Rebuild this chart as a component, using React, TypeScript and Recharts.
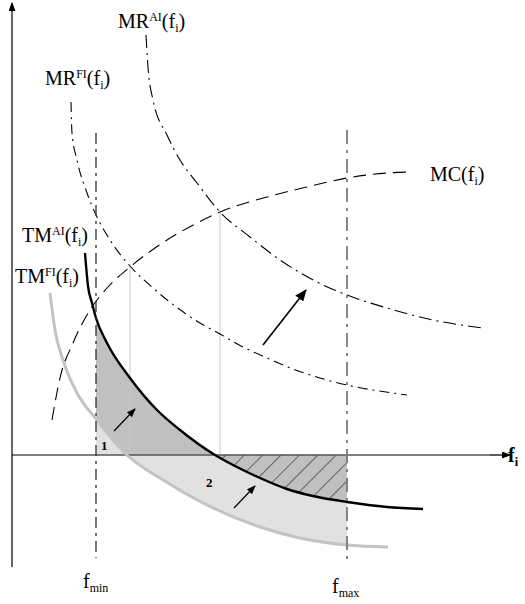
import React from 'react';
import { ComposedChart, Line, Area, XAxis, YAxis, ReferenceLine, ReferenceDot } from 'recharts';

// x = level of f_i measured from the vertical axis, y = value measured from the horizontal axis
const tmAI = [
  { x: 73, y: 202 }, { x: 76, y: 169 }, { x: 80, y: 152 }, { x: 84, y: 137 }, { x: 95, y: 112 },
  { x: 118, y: 77 }, { x: 145, y: 45 }, { x: 168, y: 25 }, { x: 203, y: 0 }, { x: 221, y: -10 },
  { x: 248, y: -23 }, { x: 275, y: -34 }, { x: 301, y: -41 }, { x: 335, y: -47 }, { x: 375, y: -52 },
  { x: 411, y: -54 },
];
const tmFI = [
  { x: 38, y: 162 }, { x: 43, y: 125 }, { x: 51, y: 95 }, { x: 65, y: 62 }, { x: 84, y: 36 },
  { x: 115, y: 0 }, { x: 151, y: -25 }, { x: 193, y: -49 }, { x: 248, y: -72 }, { x: 288, y: -83 },
  { x: 335, y: -90 }, { x: 376, y: -92 },
];
const mc = [
  { x: 40, y: 35 }, { x: 48, y: 77 }, { x: 61, y: 112 }, { x: 78, y: 145 }, { x: 95, y: 167 },
  { x: 118, y: 188 }, { x: 155, y: 215 }, { x: 185, y: 232 }, { x: 208, y: 243 }, { x: 255, y: 258 },
  { x: 295, y: 268 }, { x: 335, y: 277 }, { x: 375, y: 282 }, { x: 400, y: 283 },
];
const mrFI = [
  { x: 59, y: 353 }, { x: 60, y: 322 }, { x: 65, y: 295 }, { x: 75, y: 262 }, { x: 85, y: 238 },
  { x: 98, y: 215 }, { x: 118, y: 189 }, { x: 141, y: 167 }, { x: 188, y: 132 }, { x: 208, y: 121 },
  { x: 231, y: 108 }, { x: 255, y: 97 }, { x: 281, y: 86 }, { x: 315, y: 75 }, { x: 335, y: 70 },
  { x: 395, y: 60 },
];
const mrAI = [
  { x: 134, y: 420 }, { x: 136, y: 388 }, { x: 141, y: 355 }, { x: 155, y: 320 }, { x: 168, y: 295 },
  { x: 185, y: 272 }, { x: 208, y: 243 }, { x: 238, y: 218 }, { x: 271, y: 193 }, { x: 305, y: 173 },
  { x: 335, y: 160 }, { x: 375, y: 147 }, { x: 421, y: 135 }, { x: 471, y: 127 },
];

const fMin = 84;
const fMax = 335;
const tmAIZero = 203;
const fMinLine = [{ x: fMin, y: 322 }, { x: fMin, y: -103 }];
const fMaxLine = [{ x: fMax, y: 325 }, { x: fMax, y: -110 }];
const guideTops = [{ x: 118, y: 188 }, { x: 208, y: 243 }];
const yAxisLine = [{ x: 0, y: -112 }, { x: 0, y: 452 }];
const xAxisLine = [{ x: 0, y: 0 }, { x: 498, y: 0 }];
const shiftArrows = [
  { from: { x: 102, y: 24 }, to: { x: 123, y: 46 } },
  { from: { x: 222, y: -53 }, to: { x: 243, y: -31 } },
  { from: { x: 251, y: 110 }, to: { x: 294, y: 165 } },
];

const darkArea = tmAI.filter((p) => p.x >= fMin && p.x <= tmAIZero);
const lightArea = tmFI.filter((p) => p.x >= fMin && p.x <= fMax);
const hatchArea = tmAI.filter((p) => p.x >= tmAIZero && p.x <= fMax);

type Part = { t: string; k?: 'sup' | 'sub' };
const FONT = '"Liberation Serif", "Times New Roman", serif';

function mathLabel(parts: Part[], size = 20, bold = false, small = 12) {
  return (props: any) => {
    const vb = props.viewBox || {};
    let cur = 0;
    return (
      <text x={vb.x} y={vb.y} fontFamily={FONT} fontSize={size} fontWeight={bold ? 'bold' : 'normal'} fill="#000">
        {parts.map((p, i) => {
          const target = p.k === 'sup' ? -7 : p.k === 'sub' ? 4 : 0;
          const dy = target - cur;
          cur = target;
          return (
            <tspan key={i} dy={dy} fontSize={p.k ? small : size}>
              {p.t}
            </tspan>
          );
        })}
      </text>
    );
  };
}

const labels = [
  { x: 106, y: 427, parts: [{ t: 'MR' }, { t: 'AI', k: 'sup' }, { t: '(f' }, { t: 'i', k: 'sub' }, { t: ')' }] },
  { x: 33, y: 370, parts: [{ t: 'MR' }, { t: 'FI', k: 'sup' }, { t: '(f' }, { t: 'i', k: 'sub' }, { t: ')' }] },
  { x: 418, y: 274, parts: [{ t: 'MC(f' }, { t: 'i', k: 'sub' }, { t: ')' }] },
  { x: 10, y: 213, parts: [{ t: 'TM' }, { t: 'AI', k: 'sup' }, { t: '(f' }, { t: 'i', k: 'sub' }, { t: ')' }] },
  { x: 3, y: 172, parts: [{ t: 'TM' }, { t: 'FI', k: 'sup' }, { t: '(f' }, { t: 'i', k: 'sub' }, { t: ')' }] },
  { x: 71, y: -133, parts: [{ t: 'f' }, { t: 'min', k: 'sub' }] },
  { x: 320, y: -138, parts: [{ t: 'f' }, { t: 'max', k: 'sub' }] },
] as { x: number; y: number; parts: Part[] }[];

const arrowShape = (size: 'big' | 'small' | 'axis') => (p: any) => (
  <line
    x1={p.x1}
    y1={p.y1}
    x2={p.x2}
    y2={p.y2}
    stroke="#000"
    strokeWidth={size === 'big' ? 1.6 : 1.2}
    markerEnd={size === 'big' ? 'url(#ahBig)' : 'url(#ahSmall)'}
  />
);

export default function App() {
  return (
    <div style={{ position: 'absolute', left: 0, top: 0, background: '#fff' }}>
      <ComposedChart width={525} height={604} margin={{ top: 0, right: 0, bottom: 0, left: 0 }}>
        <defs>
          <marker id="ahBig" markerUnits="userSpaceOnUse" markerWidth="12" markerHeight="10" refX="11" refY="5" orient="auto">
            <path d="M0,0 L12,5 L0,10 z" fill="#000" />
          </marker>
          <marker id="ahSmall" markerUnits="userSpaceOnUse" markerWidth="9" markerHeight="7" refX="8" refY="3.5" orient="auto">
            <path d="M0,0 L9,3.5 L0,7 z" fill="#000" />
          </marker>
          <pattern id="hatch" patternUnits="userSpaceOnUse" width="13" height="13" patternTransform="rotate(45)">
            <rect width="13" height="13" fill="#c0c0c0" />
            <line x1="0" y1="0" x2="0" y2="13" stroke="#222" strokeWidth="1.2" />
          </pattern>
        </defs>
        <XAxis type="number" dataKey="x" domain={[-12, 513]} allowDataOverflow hide />
        <YAxis type="number" dataKey="y" domain={[-149, 455]} allowDataOverflow hide />

        <Area data={darkArea} dataKey="y" type="monotone" baseValue={0} fill="#c0c0c0" fillOpacity={1} stroke="none" isAnimationActive={false} dot={false} activeDot={false} />
        <Area data={lightArea} dataKey="y" type="monotone" baseValue={0} fill="#e1e1e1" fillOpacity={1} stroke="none" isAnimationActive={false} dot={false} activeDot={false} />
        <Area data={hatchArea} dataKey="y" type="monotone" baseValue={0} fill="url(#hatch)" fillOpacity={1} stroke="none" isAnimationActive={false} dot={false} activeDot={false} />

        {guideTops.map((g, i) => (
          <Line key={'g' + i} data={[g, { x: g.x, y: 0 }]} dataKey="y" type="linear" stroke="#c8c8c8" strokeWidth={1} dot={false} activeDot={false} isAnimationActive={false} />
        ))}

        <Line data={xAxisLine} dataKey="y" type="linear" stroke="#555" strokeWidth={1.6} dot={false} activeDot={false} isAnimationActive={false} />

        <Line data={tmFI} dataKey="y" type="monotone" stroke="#c3c3c3" strokeWidth={3} dot={false} activeDot={false} isAnimationActive={false} />
        <Line data={tmAI} dataKey="y" type="monotone" stroke="#000" strokeWidth={2.4} dot={false} activeDot={false} isAnimationActive={false} />
        <Line data={mc} dataKey="y" type="monotone" stroke="#000" strokeWidth={1.1} strokeDasharray="13 7" dot={false} activeDot={false} isAnimationActive={false} />
        <Line data={mrFI} dataKey="y" type="monotone" stroke="#000" strokeWidth={1.1} strokeDasharray="10 5 2 5" dot={false} activeDot={false} isAnimationActive={false} />
        <Line data={mrAI} dataKey="y" type="monotone" stroke="#000" strokeWidth={1.1} strokeDasharray="13 5 2 5" dot={false} activeDot={false} isAnimationActive={false} />

        <Line data={fMinLine} dataKey="y" type="linear" stroke="#333" strokeWidth={1.3} strokeDasharray="11 5 3 5" dot={false} activeDot={false} isAnimationActive={false} />
        <Line data={fMaxLine} dataKey="y" type="linear" stroke="#7a7a7a" strokeWidth={1.8} strokeDasharray="14 6 3 6" dot={false} activeDot={false} isAnimationActive={false} />

        <ReferenceLine segment={[yAxisLine[0], yAxisLine[1]]} shape={arrowShape('small')} ifOverflow="visible" />
        <ReferenceLine segment={[xAxisLine[0], xAxisLine[1]]} shape={(p: any) => (
          <line x1={p.x2 - 20} y1={p.y1} x2={p.x2} y2={p.y2} stroke="#555" strokeWidth={1.6} markerEnd="url(#ahSmall)" />
        )} ifOverflow="visible" />
        {shiftArrows.map((a, i) => (
          <ReferenceLine key={'a' + i} segment={[a.from, a.to]} shape={arrowShape(i === 2 ? 'big' : 'small')} ifOverflow="visible" />
        ))}

        {labels.map((l, i) => (
          <ReferenceDot key={'l' + i} x={l.x} y={l.y} r={0} fill="none" stroke="none" ifOverflow="visible" label={mathLabel(l.parts)} />
        ))}
        <ReferenceDot x={496} y={-7} r={0} fill="none" stroke="none" ifOverflow="visible" label={mathLabel([{ t: 'f' }, { t: 'i', k: 'sub' }], 20, true, 12)} />
        <ReferenceDot x={89} y={5} r={0} fill="none" stroke="none" ifOverflow="visible" label={mathLabel([{ t: '1' }], 13, true)} />
        <ReferenceDot x={194} y={-32} r={0} fill="none" stroke="none" ifOverflow="visible" label={mathLabel([{ t: '2' }], 13, true)} />
      </ComposedChart>
    </div>
  );
}
